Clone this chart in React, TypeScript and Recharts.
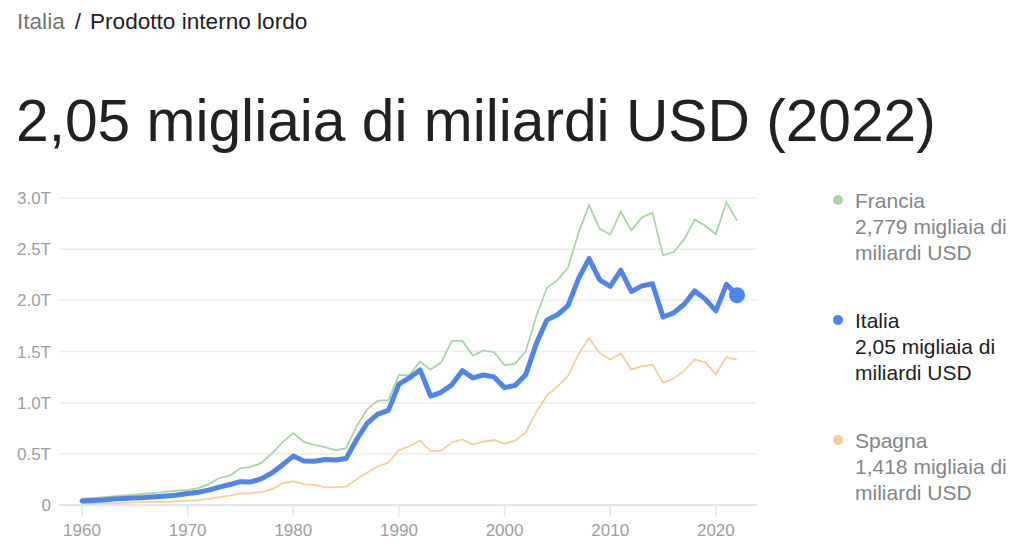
import React from 'react';
import { LineChart, Line, XAxis, YAxis, CartesianGrid, ReferenceDot } from 'recharts';

const years = [
  1960, 1961, 1962, 1963, 1964, 1965, 1966, 1967, 1968, 1969,
  1970, 1971, 1972, 1973, 1974, 1975, 1976, 1977, 1978, 1979,
  1980, 1981, 1982, 1983, 1984, 1985, 1986, 1987, 1988, 1989,
  1990, 1991, 1992, 1993, 1994, 1995, 1996, 1997, 1998, 1999,
  2000, 2001, 2002, 2003, 2004, 2005, 2006, 2007, 2008, 2009,
  2010, 2011, 2012, 2013, 2014, 2015, 2016, 2017, 2018, 2019,
  2020, 2021, 2022,
];

// GDP, trillions of USD
const francia = [
  0.062, 0.068, 0.076, 0.085, 0.094, 0.101, 0.110, 0.119, 0.130, 0.141,
  0.148, 0.165, 0.204, 0.264, 0.286, 0.361, 0.372, 0.411, 0.506, 0.614,
  0.702, 0.617, 0.588, 0.566, 0.535, 0.556, 0.771, 0.935, 1.019, 1.025,
  1.269, 1.270, 1.402, 1.323, 1.394, 1.601, 1.606, 1.460, 1.511, 1.493,
  1.366, 1.382, 1.500, 1.844, 2.120, 2.197, 2.320, 2.660, 2.930, 2.700,
  2.643, 2.866, 2.684, 2.811, 2.856, 2.439, 2.472, 2.595, 2.790, 2.729,
  2.647, 2.960, 2.779,
];

const italia = [
  0.040, 0.045, 0.050, 0.058, 0.063, 0.068, 0.073, 0.081, 0.088, 0.097,
  0.113, 0.124, 0.145, 0.175, 0.200, 0.228, 0.225, 0.258, 0.315, 0.394,
  0.478, 0.430, 0.428, 0.444, 0.439, 0.454, 0.640, 0.800, 0.888, 0.925,
  1.181, 1.244, 1.320, 1.065, 1.101, 1.174, 1.313, 1.242, 1.270, 1.252,
  1.147, 1.169, 1.272, 1.577, 1.807, 1.858, 1.949, 2.213, 2.408, 2.199,
  2.136, 2.294, 2.087, 2.141, 2.162, 1.837, 1.877, 1.962, 2.092, 2.012,
  1.897, 2.156, 2.050,
];

const spagna = [
  0.012, 0.014, 0.016, 0.019, 0.021, 0.025, 0.029, 0.032, 0.032, 0.037,
  0.041, 0.047, 0.059, 0.077, 0.091, 0.111, 0.115, 0.127, 0.156, 0.212,
  0.233, 0.204, 0.197, 0.173, 0.175, 0.180, 0.251, 0.317, 0.376, 0.416,
  0.536, 0.576, 0.630, 0.525, 0.529, 0.612, 0.641, 0.590, 0.619, 0.635,
  0.598, 0.628, 0.709, 0.907, 1.069, 1.157, 1.260, 1.474, 1.632, 1.486,
  1.421, 1.480, 1.325, 1.355, 1.372, 1.196, 1.233, 1.313, 1.421, 1.394,
  1.277, 1.446, 1.418,
];

const xTicks = [1960, 1970, 1980, 1990, 2000, 2010, 2020];
const yTicks = [0, 0.5, 1, 1.5, 2, 2.5, 3];

const legendItems = [
  { name: 'Francia', value: '2,779 migliaia di', unit: 'miliardi USD', color: '#a8d5a8', text: '#80868b', top: 188 },
  { name: 'Italia', value: '2,05 migliaia di', unit: 'miliardi USD', color: '#4f84ec', text: '#202124', top: 308 },
  { name: 'Spagna', value: '1,418 migliaia di', unit: 'miliardi USD', color: '#f5cf98', text: '#80868b', top: 428 },
];

const data = years.map((y, i) => ({ year: y, francia: francia[i], italia: italia[i], spagna: spagna[i] }));

const FONT = '"Liberation Sans", Arial, Helvetica, sans-serif';

export default function App() {
  const last = data[data.length - 1];
  return (
    <div style={{ position: 'absolute', left: 0, top: 0, width: 1024, height: 559, background: '#fff', fontFamily: FONT }}>
      <div style={{ position: 'absolute', left: 17, top: 9, fontSize: 22.6, lineHeight: '26px', whiteSpace: 'nowrap' }}>
        <span style={{ color: '#70757a' }}>Italia</span>
        <span style={{ color: '#202124', margin: '0 9px 0 10px' }}>/</span>
        <span style={{ color: '#202124' }}>Prodotto interno lordo</span>
      </div>
      <div style={{ position: 'absolute', left: 16, top: 86, fontSize: 58.7, lineHeight: '70px', color: '#202124', whiteSpace: 'nowrap' }}>
        2,05 migliaia di miliardi USD (2022)
      </div>

      <div style={{ position: 'absolute', left: 0, top: 0 }}>
        <LineChart width={770} height={545} data={data} margin={{ top: 198, right: 13, left: 0, bottom: 10 }}>
          <CartesianGrid vertical={false} stroke="#ebebeb" strokeWidth={1.5} />
          <XAxis
            dataKey="year"
            type="number"
            domain={[1960, 2022]}
            ticks={xTicks}
            padding={{ left: 23, right: 20 }}
            height={30}
            axisLine={{ stroke: '#e6e6e6', strokeWidth: 2 }}
            tickLine={{ stroke: '#e6e6e6', strokeWidth: 1.5 }}
            tickSize={12}
            tickMargin={7}
            tick={{ fill: '#9e9e9e', fontSize: 17, fontFamily: FONT }}
          />
          <YAxis
            width={59}
            domain={[0, 3]}
            ticks={yTicks}
            axisLine={false}
            tickLine={false}
            tick={{ fill: '#9e9e9e', fontSize: 17, fontFamily: FONT }}
            tickFormatter={(v: number) => (v === 0 ? '0' : `${v.toFixed(1)}T`)}
          />
          <Line type="linear" dataKey="francia" stroke="#a8d5a8" strokeWidth={1.8} dot={false} isAnimationActive={false} />
          <Line type="linear" dataKey="spagna" stroke="#f5cf98" strokeWidth={1.8} dot={false} isAnimationActive={false} />
          <Line type="linear" dataKey="italia" stroke="#4f84ec" strokeWidth={5} strokeLinejoin="round" strokeLinecap="round" dot={false} isAnimationActive={false} />
          <ReferenceDot x={last.year} y={last.italia} r={8} fill="#4f84ec" stroke="none" />
        </LineChart>
      </div>

      {legendItems.map((item) => (
        <div key={item.name} style={{ position: 'absolute', left: 855, top: item.top, fontSize: 21, lineHeight: '26px', color: item.text, whiteSpace: 'nowrap' }}>
          <span style={{ position: 'absolute', left: -22, top: 7, width: 10, height: 10, borderRadius: 5, background: item.color }} />
          <div>{item.name}</div>
          <div>{item.value}</div>
          <div>{item.unit}</div>
        </div>
      ))}
    </div>
  );
}
